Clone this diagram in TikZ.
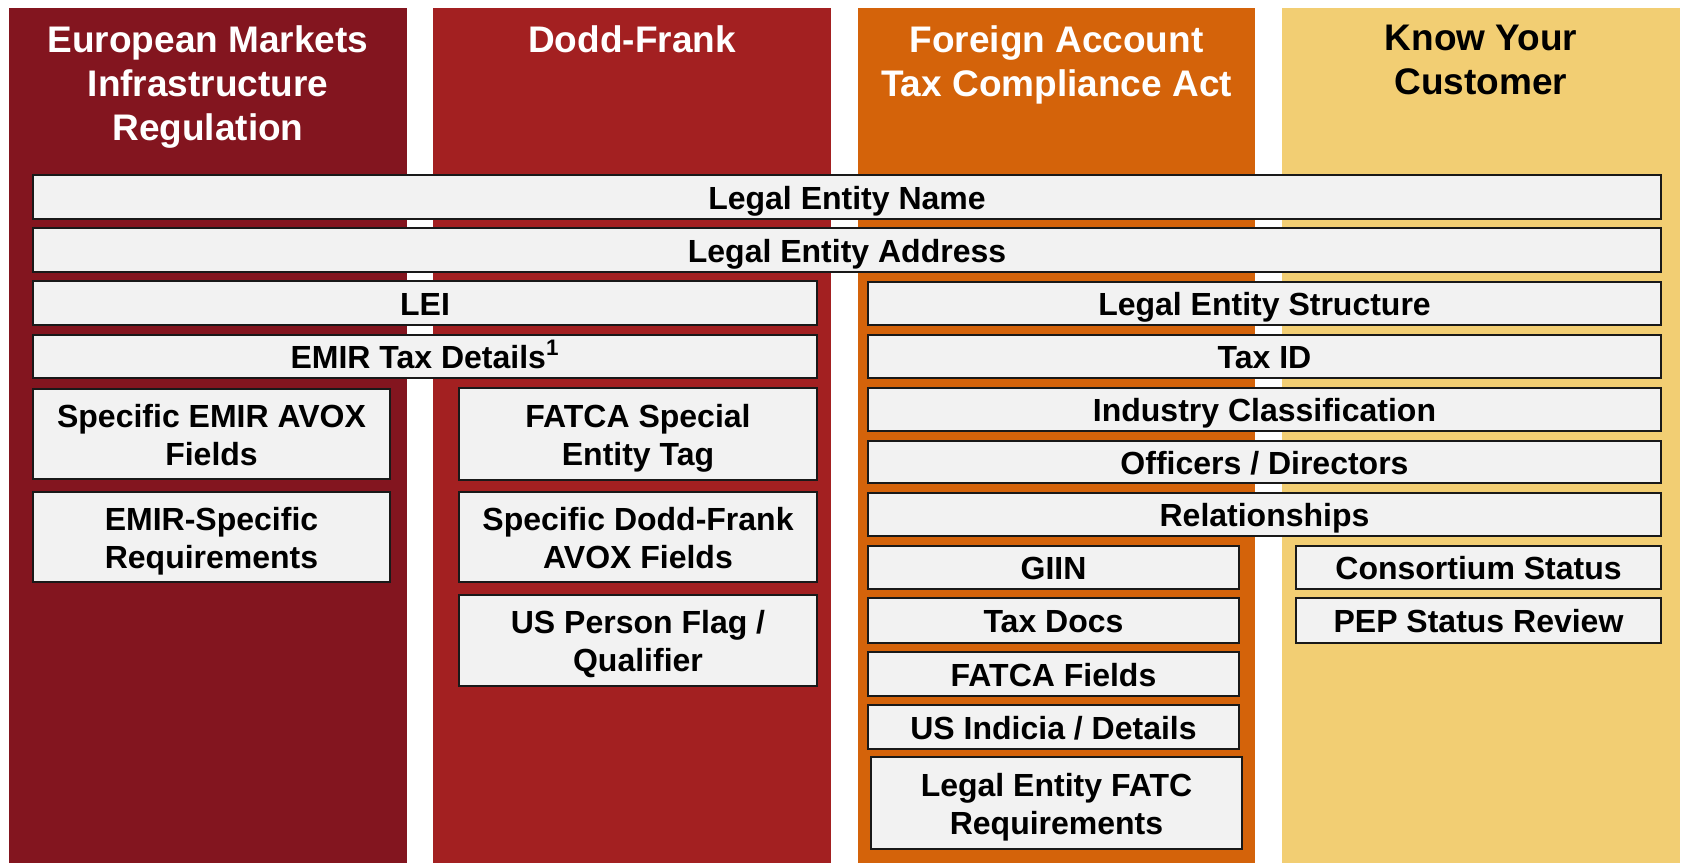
\documentclass[tikz,border=0pt]{standalone}
\usepackage{fontspec}
\setmainfont{Liberation Sans}
\usetikzlibrary{fit}
\definecolor{emirred}{HTML}{83151F}
\definecolor{doddred}{HTML}{A32021}
\definecolor{fatcaorange}{HTML}{D4630A}
\definecolor{kycyellow}{HTML}{F2CE73}
\definecolor{cellgray}{HTML}{F2F2F2}
% \cellnode[lines]{name}{x1}{y1}{x2}{y2}{text}: a grey data-element box between two corners
\newcommand\cellnode[7][oneline]{%
  \node[cell, #1, minimum width={(#5-#3)*0.5pt}, minimum height={(#6-#4)*0.5pt}]
    (#2) at ({(#3+#5)/2},{(#4+#6)/2}) {#7};}
\begin{document}
\begin{tikzpicture}[x=0.5pt,y=-0.5pt,
  band/.style={fill=#1, draw=none, inner sep=0pt},
  cell/.style={draw=black!90, line width=0.8pt, fill=cellgray, inner sep=0pt,
    font=\bfseries\fontsize{16}{19}\selectfont, align=center},
  oneline/.style={text height=12pt, text depth=0pt},
  twoline/.style={text height=31pt, text depth=0pt},
  head/.style={anchor=north, inner sep=0pt,
    font=\bfseries\fontsize{18.5}{22}\selectfont, align=center}]
\useasboundingbox (0,0) rectangle (1681,864);
\fill[white] (0,0) rectangle (1681,864);

% regulation columns
\node[band=emirred,     fit={(9,8) (407,863)}]     (colEMIR) {};
\node[band=doddred,     fit={(433,8) (831,863)}]   (colDF) {};
\node[band=fatcaorange, fit={(858,8) (1255,863)}]  (colFATCA) {};
\node[band=kycyellow,   fit={(1282,8) (1680,863)}] (colKYC) {};

% column headings
\node[head, text=white] (hEMIR)  at (208,25)    {European Markets\\Infrastructure\\Regulation};
\node[head, text=white] (hDF)    at (632,25)    {Dodd-Frank};
\node[head, text=white] (hFATCA) at (1056.5,25) {Foreign Account\\Tax Compliance Act};
\node[head, text=black] (hKYC)   at (1481,25)   {Know Your\\Customer};

% shared data elements
\cellnode{name}{33}{175}{1661}{219}{Legal Entity Name}
\cellnode{addr}{33}{228}{1661}{272}{Legal Entity Address}

% EMIR / Dodd-Frank elements
\cellnode{lei}{33}{281}{817}{325}{LEI}
\cellnode{emirtax}{33}{335}{817}{378}{EMIR Tax Details\textsuperscript{1}}
\cellnode[twoline]{emiravox}{33}{389}{390}{479}{Specific EMIR AVOX\\Fields}
\cellnode[twoline]{emirreq}{33}{492}{390}{582}{EMIR-Specific\\Requirements}
\cellnode[twoline]{fatcatag}{459}{388}{817}{480}{FATCA Special\\Entity Tag}
\cellnode[twoline]{dfavox}{459}{492}{817}{582}{Specific Dodd-Frank\\AVOX Fields}
\cellnode[twoline]{usperson}{459}{595}{817}{686}{US Person Flag /\\Qualifier}

% FATCA / KYC elements
\cellnode{struct}{868}{282}{1661}{325}{Legal Entity Structure}
\cellnode{taxid}{868}{335}{1661}{378}{Tax ID}
\cellnode{industry}{868}{388}{1661}{431}{Industry Classification}
\cellnode{officers}{868}{441}{1661}{483}{Officers / Directors}
\cellnode{rel}{868}{493}{1661}{536}{Relationships}
\cellnode{giin}{868}{546}{1239}{589}{GIIN}
\cellnode{taxdocs}{868}{598}{1239}{643}{Tax Docs}
\cellnode{fatcaf}{868}{652}{1239}{696}{FATCA Fields}
\cellnode{usind}{868}{705}{1239}{749}{US Indicia / Details}
\cellnode[twoline]{lefatc}{871}{757}{1242}{849}{Legal Entity FATC\\Requirements}
\cellnode{consort}{1296}{546}{1661}{589}{Consortium Status}
\cellnode{pep}{1296}{598}{1661}{643}{PEP Status Review}
\end{tikzpicture}
\end{document}
